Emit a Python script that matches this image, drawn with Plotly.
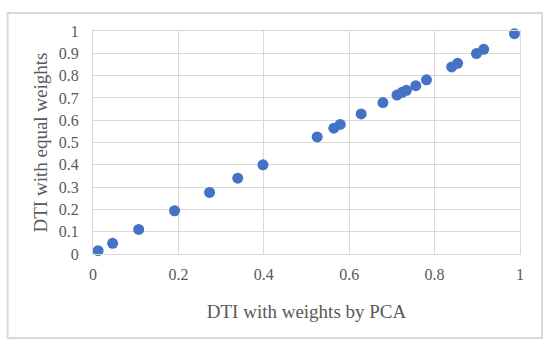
import plotly.graph_objects as go

dti_pca = [0.012, 0.046, 0.107, 0.191, 0.273, 0.339, 0.398, 0.525, 0.564, 0.579,
           0.628, 0.679, 0.712, 0.724, 0.734, 0.756, 0.781, 0.840, 0.854, 0.898,
           0.915, 0.987]
dti_equal = [0.015, 0.048, 0.110, 0.194, 0.276, 0.340, 0.400, 0.525, 0.564, 0.581,
             0.628, 0.679, 0.713, 0.725, 0.734, 0.755, 0.781, 0.839, 0.855, 0.899,
             0.918, 0.988]

x_ticks = [0, 0.2, 0.4, 0.6, 0.8, 1]
x_labels = ["0", "0.2", "0.4", "0.6", "0.8", "1"]
y_ticks = [0, 0.1, 0.2, 0.3, 0.4, 0.5, 0.6, 0.7, 0.8, 0.9, 1]
y_labels = ["0", "0.1", "0.2", "0.3", "0.4", "0.5", "0.6", "0.7", "0.8", "0.9", "1"]

FONT = "Palatino Linotype, Book Antiqua, Palatino, Liberation Serif, serif"
GRID = "#d9d9d9"
TXT = "#595959"

fig = go.Figure()
fig.add_trace(go.Scatter(
    x=dti_pca, y=dti_equal, mode="markers",
    marker=dict(color="#4472C4", size=11, line=dict(width=0)),
    cliponaxis=False, showlegend=False,
))

fig.update_layout(
    width=550, height=346,
    margin=dict(l=92.5, r=30, t=31, b=92),
    paper_bgcolor="white", plot_bgcolor="white",
    font=dict(family=FONT, color=TXT, size=16),
    xaxis=dict(
        range=[0, 1], tickvals=x_ticks, ticktext=x_labels,
        showgrid=True, gridcolor=GRID, gridwidth=1,
        showline=True, linecolor=GRID, linewidth=1, mirror=True,
        zeroline=False, ticks="", ticklabelstandoff=6,
        tickfont=dict(family=FONT, size=16, color=TXT),
        title=dict(text="DTI with weights by PCA", standoff=22,
                   font=dict(family=FONT, size=19, color=TXT)),
    ),
    yaxis=dict(
        range=[0, 1], tickvals=y_ticks, ticktext=y_labels,
        showgrid=True, gridcolor=GRID, gridwidth=1,
        showline=True, linecolor=GRID, linewidth=1, mirror=True,
        zeroline=False, ticks="", ticklabelstandoff=10,
        tickfont=dict(family=FONT, size=16, color=TXT),
        title=dict(text="DTI with equal weights", standoff=6,
                   font=dict(family=FONT, size=19, color=TXT)),
    ),
    shapes=[dict(type="rect", xref="paper", yref="paper",
                 x0=-0.2, x1=1.0515, y0=-0.3767, y1=1.0807,
                 line=dict(color="#d9d9d9", width=2), fillcolor="rgba(0,0,0,0)",
                 layer="below")],
)

fig.write_html("out.html", config={"displayModeBar": False},
               post_script="document.body.style.margin='0';")
